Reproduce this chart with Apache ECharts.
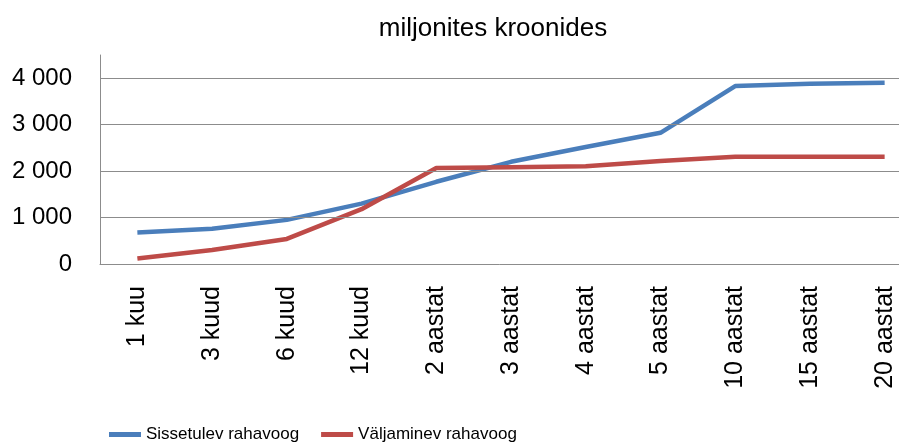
<!DOCTYPE html>
<html>
<head>
<meta charset="utf-8">
<script src="https://cdn.jsdelivr.net/npm/echarts@6/dist/echarts.min.js"></script>
<style>
html,body{margin:0;padding:0;background:#fff;}
#chart{width:899px;height:444px;}
</style>
</head>
<body>
<div id="chart"></div>
<script>
// perioodid
var categories = ['1 kuu','3 kuud','6 kuud','12 kuud','2 aastat','3 aastat','4 aastat','5 aastat','10 aastat','15 aastat','20 aastat'];
// rahavood, miljonites kroonides
var incoming = [680, 760, 950, 1300, 1770, 2200, 2520, 2825, 3830, 3880, 3905];
var outgoing = [120, 300, 540, 1180, 2065, 2085, 2105, 2220, 2310, 2310, 2310];
var seriesNames = ['Sissetulev rahavoog', 'Väljaminev rahavoog'];
var gridValues = [1000, 2000, 3000, 4000];

var colors = ['#4a7ebb', '#be4b48'];
var chart = echarts.init(document.getElementById('chart'));

var option = {
    animation: false,
    title: {
        text: 'miljonites kroonides',
        left: 488,
        textAlign: 'center',
        top: 11,
        textStyle: {fontFamily: 'Arial, Liberation Sans, sans-serif', fontSize: 26, fontWeight: 'normal', color: '#000'}
    },
    color: colors,
    legend: {
        data: seriesNames,
        top: 421,
        left: 104,
        icon: 'rect',
        itemWidth: 32,
        itemHeight: 5,
        itemGap: 22,
        textStyle: {fontFamily: 'Liberation Sans Narrow, Arial Narrow, Arial, sans-serif', fontSize: 17, color: '#000'}
    },
    grid: {left: 100, top: 55, right: -23, height: 209, outerBoundsMode: 'none', containLabel: false},
    xAxis: {
        type: 'category',
        data: categories,
        boundaryGap: true,
        axisLine: {lineStyle: {color: '#8c8c8c', width: 1}},
        axisTick: {show: false},
        axisLabel: {
            rotate: 90,
            margin: 22,
            interval: 0,
            color: '#000',
            fontFamily: 'Arial, Liberation Sans, sans-serif',
            fontSize: 25
        }
    },
    yAxis: {
        type: 'value',
        min: 0,
        max: 4500,
        interval: 1000,
        axisLine: {show: true, lineStyle: {color: '#8c8c8c', width: 1}},
        axisTick: {show: false},
        splitLine: {show: false},
        axisLabel: {
            showMaxLabel: false,
            margin: 28,
            color: '#000',
            fontFamily: 'Arial, Liberation Sans, sans-serif',
            fontSize: 24,
            formatter: function (v) {
                return String(v).replace(/\B(?=(\d{3})+(?!\d))/g, ' ');
            }
        }
    },
    series: [
        {
            // ainult ruudustiku jooned
            type: 'line',
            data: [],
            z: 1,
            silent: true,
            markLine: {
                silent: true,
                symbol: 'none',
                label: {show: false},
                lineStyle: {color: '#8c8c8c', width: 1, type: 'solid'},
                data: gridValues.map(function (v) { return {yAxis: v}; })
            }
        },
        {
            name: seriesNames[0],
            type: 'line',
            data: incoming,
            z: 3,
            symbol: 'none',
            lineStyle: {width: 4.5, color: colors[0]},
            itemStyle: {color: colors[0]}
        },
        {
            name: seriesNames[1],
            type: 'line',
            data: outgoing,
            z: 3,
            symbol: 'none',
            lineStyle: {width: 4.5, color: colors[1]},
            itemStyle: {color: colors[1]}
        }
    ]
};
chart.setOption(option);
</script>
</body>
</html>
